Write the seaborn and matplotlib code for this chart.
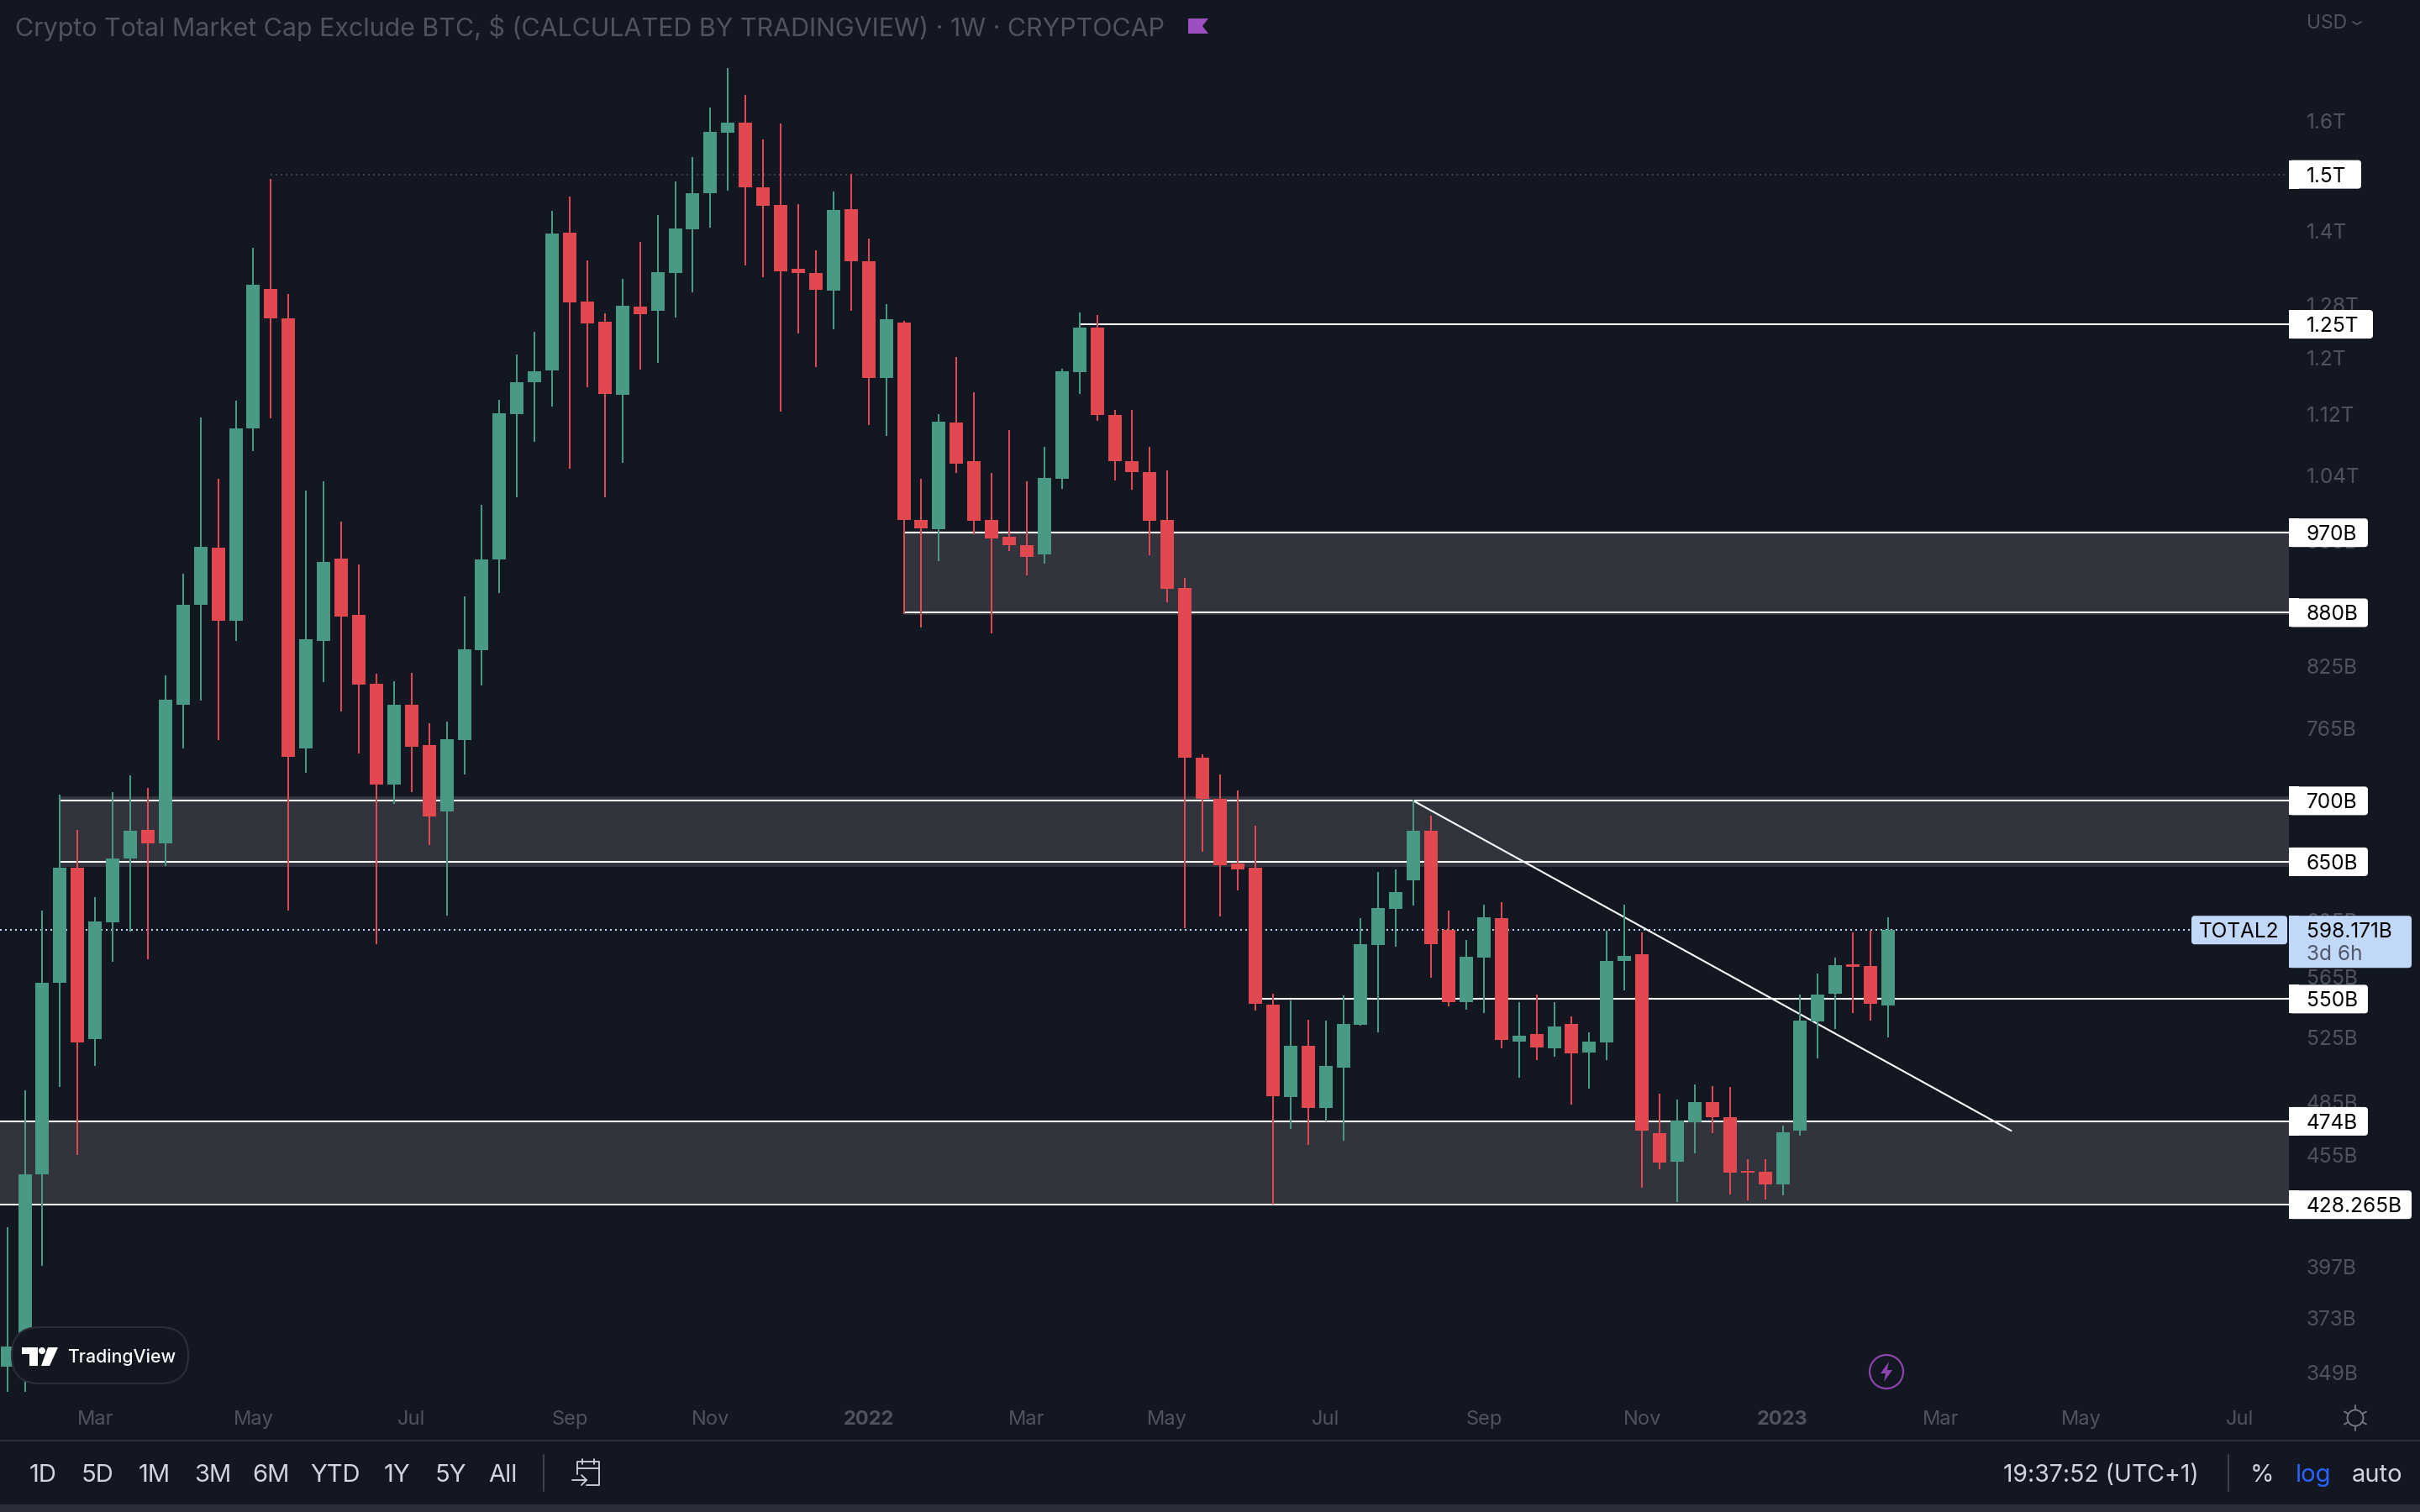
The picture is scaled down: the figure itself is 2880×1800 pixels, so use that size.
import matplotlib
matplotlib.use("Agg")
import numpy as np
import pandas as pd
import matplotlib.pyplot as plt
import seaborn as sns
from matplotlib.patches import Rectangle, FancyBboxPatch, Circle, Polygon
from matplotlib.ticker import NullLocator, NullFormatter

# weekly candles, prices in billions
opens = [351.5, 360.4, 444.4, 561.2, 645.3, 523.9, 604, 652.3, 675.9, 665, 787.2, 888.9, 952.5, 871.2, 1101, 1305.1, 1259.4, 746.2,
         850.4, 940.3, 878, 807.2, 713.7, 786.6, 749.3, 691, 753.8, 841, 939.4, 1120.6, 1164.8, 1181.9, 1397, 1285.4, 1254.1, 1147.2,
         1277.2, 1270.5, 1330.8, 1402.4, 1465.9, 1578.3, 1598.1, 1476.4, 1445.4, 1337, 1330.7, 1302, 1437.5, 1349.5, 1170.8, 1252.3,
         985.4, 974.4, 1109.4, 1058.5, 985.4, 964.8, 955.2, 944.5, 1035.7, 1179, 1245.2, 1119.8, 1058.5, 1044.3, 985.4, 907.2,
         737.9, 701.8, 648.8, 645, 546.5, 488.3, 519.6, 481.8, 505.9, 533.2, 587.6, 613.7, 635.6, 674.9, 598.6, 547.8, 578.7, 607.2,
         522.4, 527.2, 518, 533.6, 515.4, 521.9, 576.1, 581, 467.1, 451.3, 473.6, 485, 476.3, 446.3, 445.8, 439.1, 468.5, 535.4,
         553.8, 573.9, 572.7, 546]
highs = [416.8, 492.4, 612.5, 705.4, 675.9, 622.7, 707.4, 722.2, 711.2, 815.3, 922.7, 1116, 1035.8, 1139.2, 1372, 1491.8, 1296.8, 1021.5,
         1032.8, 983.1, 933.1, 817.2, 809.6, 817.8, 769.2, 770.7, 897.8, 1003.6, 1140.5, 1204.8, 1238.8, 1435.3, 1459.9, 1351.2, 1266.7, 1321.4,
         1381.6, 1427.9, 1487.6, 1531.7, 1627.4, 1707.3, 1652.3, 1565.6, 1596.1, 1447.2, 1367.7, 1469, 1501.4, 1387.1, 1281.4, 1255.3,
         1035.7, 1120.5, 1201.5, 1151, 1043, 1098.9, 1032.8, 1076.4, 1184, 1268.1, 1264, 1126.4, 1126.4, 1076.4, 1046.7, 918.4,
         740.9, 723, 708.9, 679.3, 553.8, 548.9, 536.4, 535.9, 552.7, 607.2, 642.1, 643.7, 701, 687.4, 612.5, 591.3, 617, 618.9,
         548, 553.1, 548, 538.7, 528.2, 597.6, 617, 596.7, 490.2, 486.5, 495.8, 494.8, 494.2, 452.7, 452.7, 471.5, 553.2, 567.4,
         578.7, 596.7, 597.9, 607.7]
lows = [340.9, 340.9, 397.5, 494.4, 454.9, 507, 575.5, 597, 577, 646.6, 746.2, 790.7, 753.8, 850.4, 1071.2, 1115.4, 612.5, 724.4,
        808.5, 780.5, 741.9, 587.9, 697.1, 707.8, 663.4, 608.6, 723, 805.8, 901.5, 1013, 1083.5, 1131.1, 1048.1, 1158.1, 1013, 1056.2,
        1182.7, 1192.9, 1259.9, 1299.6, 1406, 1471.1, 1342.5, 1323.8, 1123.8, 1235.9, 1186.7, 1242.4, 1271.2, 1106.1, 1091.3, 878.4,
        864.5, 937, 1043, 968.7, 858.4, 948.9, 921, 934.5, 1023, 1148.5, 1111.3, 1033.9, 1022.4, 943.5, 891.3, 599.7,
        658.1, 608.4, 628, 542.5, 428.3, 469.8, 460.6, 473.9, 463, 532.5, 528.2, 586.4, 616.4, 564.6, 545.2, 543.2, 540.8, 518,
        499.8, 510.7, 512.7, 483.7, 493.3, 510.7, 556, 437.3, 447.1, 429.7, 455.9, 467.1, 433.7, 430.7, 431, 433.3, 465.6, 511.7,
        530.3, 540.8, 535.9, 525.2]
closes = [360.4, 444.4, 561.2, 645.3, 521.9, 604.7, 652.3, 675.1, 665, 791.5, 888.9, 953.7, 871.2, 1101, 1311.3, 1259.4, 738.6, 851.9,
          935.9, 875.8, 806.3, 713.7, 786.6, 747.5, 686.9, 754.6, 841.6, 939.4, 1121.9, 1164.8, 1180.7, 1396.2, 1284, 1251.1, 1148.6, 1278.6,
          1265.3, 1332.3, 1404.6, 1465.9, 1579.2, 1598.1, 1476.4, 1443.7, 1333.2, 1330.8, 1303.4, 1436.8, 1349.5, 1170.8, 1257.7, 985.4,
          975, 1110.7, 1055.4, 984.3, 963.6, 955.2, 942.3, 1037, 1180.5, 1245.2, 1119.8, 1058.5, 1044.3, 984.3, 906.1, 737.9,
          701.8, 647.5, 643.7, 547.1, 488.8, 519.6, 481.8, 507.2, 533.6, 588.2, 614.5, 626.7, 674.9, 588.2, 547.8, 579.1, 607.7, 523.5,
          526.2, 518.6, 532.2, 515, 522.4, 576.1, 579.9, 468.5, 450.8, 474.3, 485.4, 476.3, 445.4, 445.1, 438.8, 467.9, 536, 553.2,
          573.2, 572.2, 547.1, 598.171]

# time axis
month_weeks = [5, 14, 23, 32, 40, 49, 58, 66, 75, 84, 93, 101, 110, 118, 127]
month_labels = ["Mar", "May", "Jul", "Sep", "Nov", "2022", "Mar", "May", "Jul", "Sep", "Nov", "2023", "Mar", "May", "Jul"]

# price axis
price_ticks = [1600, 1400, 1280, 1200, 1120, 1040, 960, 825, 765, 605, 565, 525, 485, 455, 397, 373, 349]
price_tick_labels = ["1.6T", "1.4T", "1.28T", "1.2T", "1.12T", "1.04T", "960B", "825B", "765B", "605B", "565B", "525B", "485B",
                     "455B", "397B", "373B", "349B"]

# drawn levels: price, first week
solid_levels = [1250, 970, 880, 700, 650, 550, 474, 428.265]
solid_starts = [61, 51, 51, 3, 3, 71, -1, -1]
solid_labels = ["1.25T", "970B", "880B", "700B", "650B", "550B", "474B", "428.265B"]
label_right = [2824, 2818, 2818, 2818, 2818, 2818, 2818, 2870]
zone_starts = [51, 3, -1]
zone_tops = [972, 704, 474]
zone_bottoms = [878, 646, 428.265]
trend_weeks = [80, 114]
trend_prices = [700, 468.6]
last_price = 598.171
range_buttons = ["1D", "5D", "1M", "3M", "6M", "YTD", "1Y", "5Y", "All"]
range_x = [51, 116, 184, 253, 322, 399, 473, 536, 598]

BG = "#131722"
GREEN = "#489A85"
RED = "#E1484F"
ZONE = "#31343D"
DIM = "#50535E"
LIGHT = "#D1D4DC"
BLUE_BOX = "#C2D8F8"
LINE = "#2A2E39"
FS = 17
LABEL_FS = 17.6

sns.set_theme(style="dark", rc={"axes.facecolor": BG, "figure.facecolor": BG, "axes.grid": False})
plt.rcParams['font.family'] = ['Inter', 'DejaVu Sans']

fig = plt.figure(figsize=(28.8, 18), dpi=100)
ax = fig.add_axes([0, 1 - 1658 / 1800, 2724 / 2880, 1658 / 1800])
ax.set_yscale("log")

weeks = np.arange(len(opens))
rising = [c >= o for o, c in zip(opens, closes)]
palette = {True: GREEN, False: RED}

wicks = pd.DataFrame({
    "week": np.tile(weeks, 2),
    "price": lows + highs,
    "rising": rising * 2,
})
bodies = pd.DataFrame({
    "week": np.tile(weeks, 2),
    "price": opens + closes,
    "rising": rising * 2,
})
sns.lineplot(data=wicks, x="week", y="price", hue="rising", units="week", estimator=None, palette=palette,
             linewidth=1.44, solid_capstyle="butt", legend=False, zorder=3, ax=ax)
sns.lineplot(data=bodies, x="week", y="price", hue="rising", units="week", estimator=None, palette=palette,
             linewidth=11.5, solid_capstyle="butt", legend=False, zorder=4, ax=ax)

xlim = (-0.411, 129.8)
ylim = (340.7, 1854.6)
for start, top, bottom in zip(zone_starts, zone_tops, zone_bottoms):
    ax.fill_between([start, xlim[1]], [bottom, bottom], [top, top], color=ZONE, linewidth=0, zorder=1)
for level, start in zip(solid_levels, solid_starts):
    ax.hlines(level, start, xlim[1], color="white", linewidth=1.5, zorder=2)
ax.hlines(1500, 15, xlim[1], color="#5A5D68", linewidth=1.1, linestyle=(0, (1, 3)), zorder=2)
ax.hlines(last_price, xlim[0], 124.3, color=BLUE_BOX, linewidth=1.44, linestyle=(0, (1, 2)), zorder=2)
sns.lineplot(x=trend_weeks, y=trend_prices, color="white", linewidth=1.5, zorder=2.5, ax=ax)

ax.set_xlim(*xlim)
ax.set_ylim(*ylim)
ax.set_xlabel("")
ax.set_ylabel("")
ax.yaxis.tick_right()
ax.yaxis.set_minor_locator(NullLocator())
ax.yaxis.set_minor_formatter(NullFormatter())
ax.set_yticks(price_ticks, labels=price_tick_labels)
ax.set_xticks(month_weeks, labels=month_labels)
ax.tick_params(axis="y", length=0, pad=15, labelsize=LABEL_FS, labelcolor=DIM, labelright=True, labelleft=False)
ax.tick_params(axis="x", length=0, pad=15, labelsize=FS, labelcolor=DIM)
for lab in ax.get_xticklabels():
    if lab.get_text().startswith("20"):
        lab.set_fontweight("bold")
for lab in ax.get_yticklabels():
    lab.set_verticalalignment("center_baseline")
sns.despine(ax=ax, left=True, bottom=True)

# everything around the pane goes on a pixel overlay
ov = fig.add_axes([0, 0, 1, 1], facecolor="none")
ov.set_xlim(0, 2880)
ov.set_ylim(1800, 0)
ov.axis("off")
fig.canvas.draw()


def price_y(price):
    return 1800 - ax.transData.transform((0, price))[1]


def value_box(y, x1, color, h=34):
    ov.add_patch(FancyBboxPatch((2724, y - h / 2), x1 - 2724, h, boxstyle="round,pad=0,rounding_size=4",
                                facecolor=color, edgecolor="none", zorder=5))
    ov.add_patch(Rectangle((2724, y - h / 2), 12, h, facecolor=color, edgecolor="none", zorder=5))


for level, text, x1 in zip(solid_levels, solid_labels, label_right):
    y = price_y(level)
    value_box(y, x1, "white")
    ov.text(2745, y, text, color="black", fontsize=LABEL_FS, va="center_baseline", ha="left", zorder=6)
y = price_y(1500)
value_box(y, 2810, "white")
ov.text(2745, y, "1.5T", color="black", fontsize=LABEL_FS, va="center_baseline", ha="left", zorder=6)

y = price_y(last_price)
ov.add_patch(FancyBboxPatch((2724, y - 17), 146, 62, boxstyle="round,pad=0,rounding_size=4", facecolor=BLUE_BOX,
                            edgecolor="none", zorder=5))
ov.add_patch(Rectangle((2724, y - 17), 12, 62, facecolor=BLUE_BOX, edgecolor="none", zorder=5))
ov.text(2745, y, "598.171B", color="black", fontsize=LABEL_FS, va="center_baseline", ha="left", zorder=6)
ov.text(2745, y + 27, "3d 6h", color="#50586A", fontsize=LABEL_FS, va="center_baseline", ha="left", zorder=6)
ov.add_patch(FancyBboxPatch((2608, y - 17), 114, 34, boxstyle="round,pad=0,rounding_size=4", facecolor=BLUE_BOX,
                            edgecolor="none", zorder=5))
ov.text(2665, y, "TOTAL2", color="black", fontsize=LABEL_FS, va="center_baseline", ha="center", zorder=6)

# header
ov.text(18, 33, "Crypto Total Market Cap Exclude BTC, $ (CALCULATED BY TRADINGVIEW) · 1W · CRYPTOCAP",
        color=DIM, fontsize=21.9, va="center", ha="left")
ov.add_patch(Polygon([(1414, 22), (1438, 22), (1431, 31), (1438, 40), (1414, 40)], facecolor="#9C4FBF", edgecolor="none"))
ov.text(2745, 28, "USD", color=DIM, fontsize=16.5, va="center", ha="left")
ov.plot([2800, 2805, 2810], [26, 29, 26], color=DIM, lw=1.3)

# toolbar
ov.plot([0, 2880], [1714.5, 1714.5], color=LINE, lw=1.5)
ov.add_patch(Rectangle((0, 1791), 2880, 9, facecolor=LINE, edgecolor="none"))
for name, x in zip(range_buttons, range_x):
    ov.text(x, 1757, name, color=LIGHT, fontsize=FS + 4, va="center", ha="center")
ov.plot([647, 647], [1732, 1775], color="#434651", lw=1.3)
ov.plot([2652, 2652], [1732, 1775], color="#434651", lw=1.3)
ov.plot([687, 687, 713, 713, 698], [1755, 1740, 1740, 1768, 1768], color=LIGHT, lw=1.3)
ov.plot([687, 713], [1748, 1748], color=LIGHT, lw=1.3)
ov.plot([693, 693], [1737, 1743], color=LIGHT, lw=1.3)
ov.plot([707, 707], [1737, 1743], color=LIGHT, lw=1.3)
ov.plot([681, 698], [1762, 1762], color=LIGHT, lw=1.3)
ov.plot([692, 698, 692], [1756, 1762, 1768], color=LIGHT, lw=1.3)
ov.text(2617, 1757, "19:37:52 (UTC+1)", color=LIGHT, fontsize=20.4, va="center", ha="right")
ov.text(2692, 1757, "%", color=LIGHT, fontsize=FS + 4, va="center", ha="center")
ov.text(2753, 1757, "log", color="#2962FF", fontsize=FS + 4, va="center", ha="center")
ov.text(2829, 1757, "auto", color=LIGHT, fontsize=FS + 4, va="center", ha="center")

# sun icon on the time axis
ov.add_patch(Circle((2803, 1688), 9.5, facecolor="none", edgecolor="#787B86", lw=1.3))
for ang in np.deg2rad([30, 90, 150, 210, 270, 330]):
    ov.plot([2803 + 10 * np.cos(ang), 2803 + 15 * np.cos(ang)], [1688 + 10 * np.sin(ang), 1688 + 15 * np.sin(ang)],
            color="#787B86", lw=1.3)

# lightning badge
ov.add_patch(Circle((2245, 1633), 20, facecolor="none", edgecolor="#8E44AD", lw=1.6))
ov.add_patch(Polygon([(2248, 1621), (2238, 1635), (2244, 1635), (2242, 1645), (2252, 1631), (2246, 1631)],
                     facecolor="#8E44AD", edgecolor="none"))

# TradingView badge
ov.add_patch(FancyBboxPatch((14, 1580), 210, 67, boxstyle="round,pad=0,rounding_size=33", facecolor=BG,
                            edgecolor=LINE, lw=1.5, zorder=7))
ov.add_patch(Polygon([(25.5, 1604), (45, 1604), (45, 1626), (34.7, 1626), (34.7, 1612), (25.5, 1612)], facecolor="white",
                     edgecolor="none", zorder=8))
ov.add_patch(Circle((50, 1608), 4, facecolor="white", edgecolor="none", zorder=8))
ov.add_patch(Polygon([(57, 1604), (69, 1604), (59, 1626), (49, 1626)], facecolor="white", edgecolor="none", zorder=8))
ov.text(80, 1616, "TradingView", color="white", fontsize=15.3, fontweight="medium", va="center", ha="left", zorder=8)

fig.savefig("out.png", dpi=100, facecolor=BG)
